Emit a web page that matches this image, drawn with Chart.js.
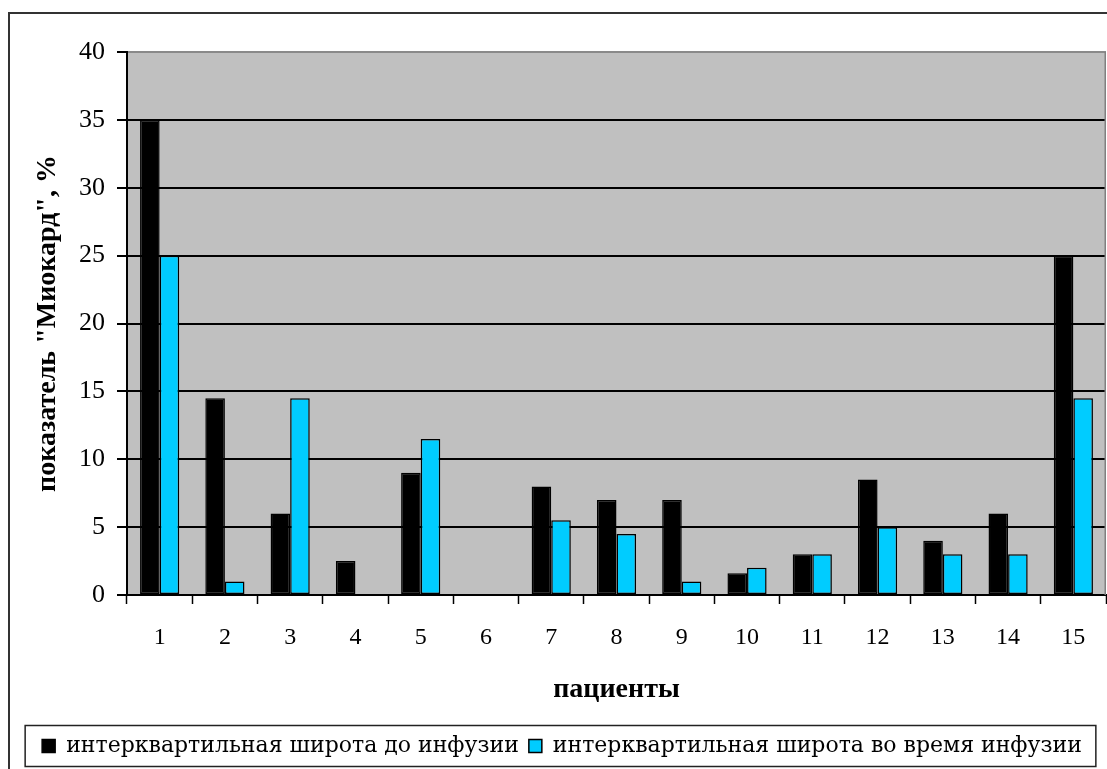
<!DOCTYPE html>
<html>
<head>
<meta charset="utf-8">
<script src="https://cdn.jsdelivr.net/npm/chart.js@4"></script>
<style>
  html, body { margin: 0; padding: 0; background: #fff; }
  #wrap { width: 1107px; height: 769px; }
</style>
</head>
<body>
<div id="wrap"><canvas id="chart" width="1107" height="769"></canvas></div>
<script>
// Patients on the x axis
const patients = ['1', '2', '3', '4', '5', '6', '7', '8', '9', '10', '11', '12', '13', '14', '15'];

// Interquartile range of the "Миокард" index, %
const beforeInfusion = [35, 14.5, 6, 2.5, 9, 0, 8, 7, 7, 1.6, 3, 8.5, 4, 6, 25];
const duringInfusion = [25, 1, 14.5, 0, 11.5, 0, 5.5, 4.5, 1, 2, 3, 5, 3, 3, 14.5];

// Series names
const seriesNames = ['интерквартильная широта до инфузии', 'интерквартильная широта во время инфузии'];

// Value axis range
const yMin = 0, yMax = 40, yStep = 5;

const SERIF = "'Liberation Serif', 'Times New Roman', 'DejaVu Serif', serif";
const LEGEND_SERIF = "'DejaVu Serif', serif";
Chart.defaults.font.family = SERIF;
Chart.defaults.color = '#000';

// Grey plot background, outer frame and frame around the legend
const framePlugin = {
  id: 'frames',
  beforeDraw(chart) {
    const { ctx, chartArea: a } = chart;
    ctx.save();
    ctx.fillStyle = '#fff';
    ctx.fillRect(0, 0, chart.width, chart.height);
    ctx.fillStyle = '#c0c0c0';
    ctx.fillRect(a.left, a.top, a.right - a.left, a.bottom - a.top);
    // outer frame
    ctx.strokeStyle = '#333';
    ctx.lineWidth = 2;
    ctx.strokeRect(9, 13, chart.width + 20, chart.height + 20);
    ctx.restore();
  },
  beforeDatasetsDraw(chart) {
    const { ctx, chartArea: a } = chart;
    ctx.save();
    ctx.strokeStyle = '#808080';
    ctx.lineWidth = 1.5;
    ctx.beginPath();
    ctx.moveTo(a.right - 0.75, a.top);
    ctx.lineTo(a.right - 0.75, a.bottom);
    ctx.stroke();
    ctx.restore();
  },
  afterDraw(chart) {
    const lg = chart.legend;
    if (!lg || !lg.legendHitBoxes || !lg.legendHitBoxes.length) return;
    const hb = lg.legendHitBoxes;
    const first = hb[0], last = hb[hb.length - 1];
    const { ctx } = chart;
    ctx.save();
    ctx.strokeStyle = '#222';
    ctx.lineWidth = 1.5;
    const left = first.left - 17;
    const right = last.left + last.width + 14;
    ctx.strokeRect(left, lg.top + 0.5, right - left, lg.bottom - lg.top - 1);
    ctx.restore();
  }
};

new Chart(document.getElementById('chart'), {
  type: 'bar',
  data: {
    labels: patients,
    datasets: [
      {
        label: seriesNames[0],
        data: beforeInfusion,
        backgroundColor: '#000000',
        borderColor: '#000000',
        borderWidth: 1.5,
        borderSkipped: false
      },
      {
        label: seriesNames[1],
        data: duringInfusion,
        backgroundColor: '#00ccff',
        borderColor: '#000000',
        borderWidth: 1.5,
        borderSkipped: false
      }
    ]
  },
  options: {
    responsive: false,
    animation: false,
    devicePixelRatio: 1,
    datasets: { bar: { categoryPercentage: 0.6, barPercentage: 1.0 } },
    layout: { padding: { left: 18, right: 1, top: 52, bottom: 2 } },
    plugins: {
      tooltip: { enabled: false },
      legend: {
        position: 'bottom',
        align: 'center',
        labels: {
          boxWidth: 13,
          boxHeight: 13,
          padding: 10,
          color: '#000',
          font: { family: LEGEND_SERIF, size: 22 }
        }
      }
    },
    scales: {
      x: {
        grid: {
          offset: true,
          drawOnChartArea: false,
          drawTicks: true,
          tickLength: 9,
          tickColor: '#000',
          tickWidth: 1.5
        },
        border: { display: true, color: '#000', width: 2 },
        ticks: { color: '#000', padding: 19, font: { family: SERIF, size: 24 } },
        title: {
          display: true,
          text: 'пациенты',
          color: '#000',
          padding: { top: 0, bottom: 18 },
          font: { family: SERIF, size: 28, weight: 'bold' }
        },
        afterFit(scale) { scale.height = 130; }
      },
      y: {
        min: yMin,
        max: yMax,
        ticks: {
          stepSize: yStep,
          color: '#000',
          padding: 12,
          font: { family: SERIF, size: 26 }
        },
        grid: {
          color: (c) => (c.tick && c.tick.value === yMax ? '#8a8a8a' : '#000'),
          lineWidth: 2,
          tickColor: '#000',
          tickLength: 10,
          drawTicks: true
        },
        border: { display: true, color: '#000', width: 2 },
        title: {
          display: true,
          text: 'показатель "Миокард", %',
          color: '#000',
          padding: { top: 13, bottom: 0 },
          font: { family: SERIF, size: 28, weight: 'bold' }
        },
        afterFit(scale) { scale.width = 109; }
      }
    }
  },
  plugins: [framePlugin]
});
</script>
</body>
</html>
